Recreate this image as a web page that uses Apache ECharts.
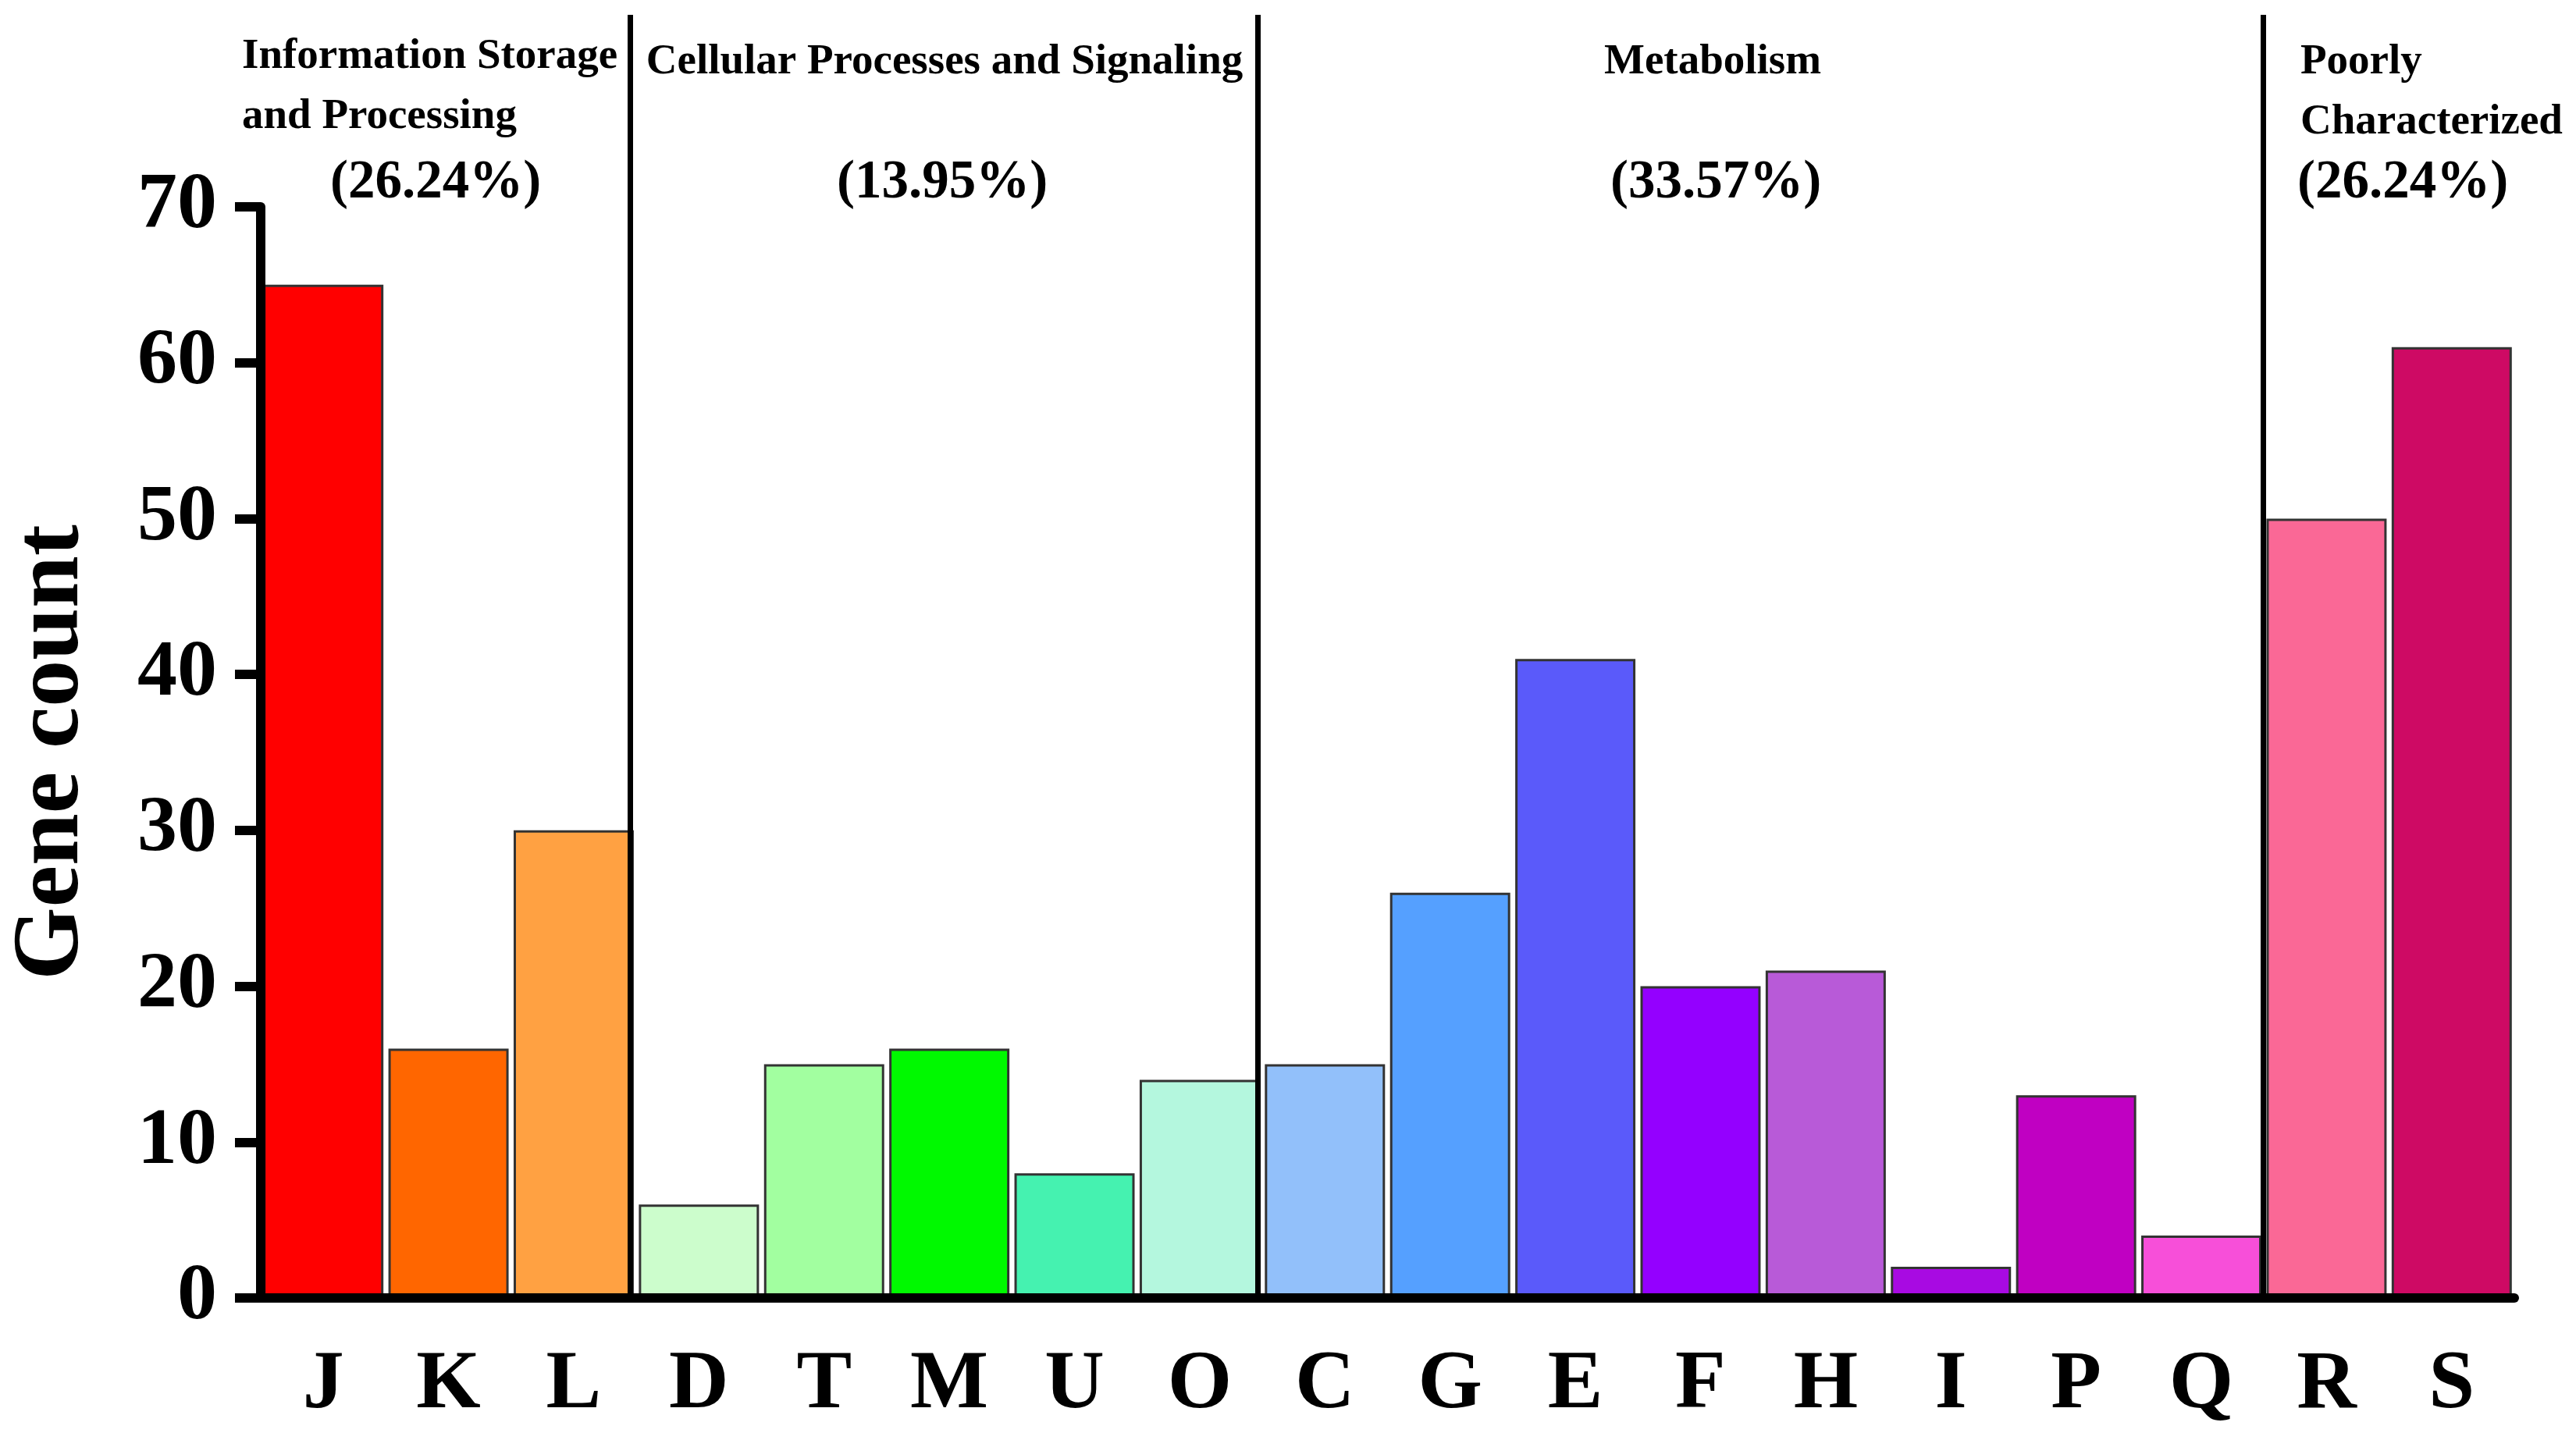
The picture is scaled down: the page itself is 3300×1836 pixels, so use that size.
<!DOCTYPE html>
<html>
<head>
<meta charset="utf-8">
<title>COG gene count</title>
<script src="https://cdn.jsdelivr.net/npm/echarts/dist/echarts.min.js"></script>
<style>
  html, body { margin: 0; padding: 0; background: #fff; }
  #chart { width: 3300px; height: 1836px; }
</style>
</head>
<body>
<div id="chart"></div>
<script>
// COG categories and gene counts, left to right
const categories = ['J', 'K', 'L', 'D', 'T', 'M', 'U', 'O', 'C', 'G', 'E', 'F', 'H', 'I', 'P', 'Q', 'R', 'S'];
const geneCounts = [65, 16, 30, 6, 15, 16, 8, 14, 15, 26, 41, 20, 21, 2, 13, 4, 50, 61];

// functional groups: first category index of each group after the first
const groupStarts = [3, 8, 16];
const groupTitles = ['Information Storage\nand Processing', 'Cellular Processes and Signaling', 'Metabolism', 'Poorly\nCharacterized'];
const groupPercents = ['(26.24%)', '(13.95%)', '(33.57%)', '(26.24%)'];

const yTicks = { min: 0, max: 70, interval: 10 };

// styling
const barColors = [
  '#ff0000', '#ff6600', '#ffa142',
  '#ccfdcc', '#a2ffa0', '#00f900', '#45f2b0', '#b4f7de',
  '#92c0fa', '#55a0ff', '#5a5afa', '#9400ff', '#b85ad8', '#a80ae2', '#c000c2', '#f74fd9',
  '#fa6896', '#ce0a64'
];
const serif = '"Liberation Serif", "Times New Roman", Times, serif';
// [x, y, align] for title and percent text of each group
const titlePos = [[310, 34, 'left'], [1210, 41, 'center'], [2194, 41, 'center'], [2947, 41, 'left']];
const percentPos = [[558, 235, 'center'], [1207, 235, 'center'], [2198, 235, 'center'], [2943, 235, 'left']];

const grid = { left: 324, right: 79, top: 265, bottom: 173 };

const chart = echarts.init(document.getElementById('chart'));

const graphics = [];
groupTitles.forEach((t, i) => {
  graphics.push({
    type: 'text',
    x: titlePos[i][0],
    y: titlePos[i][1],
    z: 10,
    style: {
      text: t,
      font: 'bold 55px ' + serif,
      fill: '#000',
      lineHeight: 77,
      textAlign: titlePos[i][2],
      align: titlePos[i][2],
      textVerticalAlign: 'top',
      verticalAlign: 'top'
    }
  });
  graphics.push({
    type: 'text',
    x: percentPos[i][0],
    y: percentPos[i][1],
    z: 10,
    style: {
      text: groupPercents[i],
      font: 'bold 69px ' + serif,
      fill: '#000',
      textAlign: percentPos[i][2],
      align: percentPos[i][2],
      textVerticalAlign: 'middle',
      verticalAlign: 'middle'
    }
  });
});

const option = {
  backgroundColor: '#fff',
  animation: false,
  grid: [
    grid,
    // overlay grid for the group separators, reaching to the top of the figure
    { left: grid.left, right: grid.right, top: 19, bottom: grid.bottom }
  ],
  xAxis: [
    {
      type: 'category',
      data: categories,
      gridIndex: 0,
      z: 5,
      axisLine: { lineStyle: { color: '#000', width: 12 } },
      axisTick: { alignWithLabel: true, length: 33, lineStyle: { color: '#000', width: 12 } },
      axisLabel: { color: '#000', fontFamily: serif, fontWeight: 'bold', fontSize: 106, margin: 60 }
    },
    {
      type: 'value',
      gridIndex: 1,
      min: 0,
      max: categories.length,
      show: false
    }
  ],
  yAxis: [
    {
      type: 'value',
      gridIndex: 0,
      min: yTicks.min,
      max: yTicks.max,
      interval: yTicks.interval,
      z: 5,
      name: 'Gene count',
      nameLocation: 'middle',
      nameRotate: 90,
      nameGap: 206,
      nameTextStyle: { color: '#000', fontFamily: serif, fontWeight: 'bold', fontSize: 120 },
      splitLine: { show: false },
      axisLine: { show: true, lineStyle: { color: '#000', width: 12 } },
      axisTick: { show: true, length: 33, lineStyle: { color: '#000', width: 12 } },
      axisLabel: { color: '#000', fontFamily: serif, fontWeight: 'bold', fontSize: 102, margin: 56 }
    },
    {
      type: 'value',
      gridIndex: 1,
      min: 0,
      max: 1,
      show: false
    }
  ],
  graphic: graphics,
  series: [
    {
      type: 'bar',
      xAxisIndex: 0,
      yAxisIndex: 0,
      barCategoryGap: '4%',
      data: geneCounts.map((v, i) => ({
        value: v,
        itemStyle: { color: barColors[i] }
      })),
      itemStyle: { borderColor: '#333', borderWidth: 3 }
    },
    {
      type: 'line',
      xAxisIndex: 1,
      yAxisIndex: 1,
      data: [[0, 0]],
      showSymbol: false,
      lineStyle: { opacity: 0 },
      silent: true,
      markLine: {
        silent: true,
        symbol: 'none',
        label: { show: false },
        lineStyle: { color: '#000', width: 7, type: 'solid' },
        data: groupStarts.map(x => ({ xAxis: x }))
      }
    }
  ]
};

chart.setOption(option);
</script>
</body>
</html>
